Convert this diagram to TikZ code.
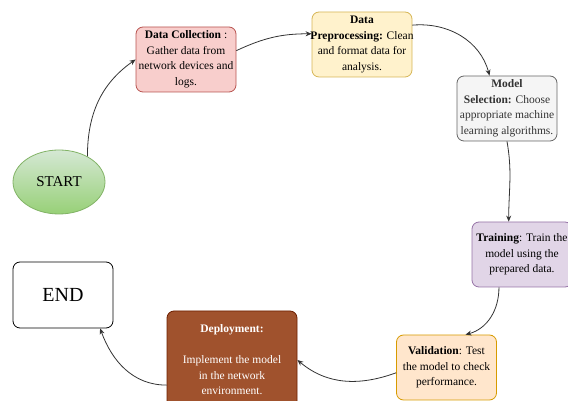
\documentclass[tikz,border=0pt]{standalone}
\usepackage{fontspec}
\setmainfont{Liberation Serif}
\usetikzlibrary{shapes.geometric,arrows.meta}
\definecolor{dcfill}{HTML}{F8CECC}\definecolor{dcdraw}{HTML}{B85450}
\definecolor{dpfill}{HTML}{FFF2CC}\definecolor{dpdraw}{HTML}{D6B656}
\definecolor{msfill}{HTML}{F5F5F5}\definecolor{msdraw}{HTML}{666666}
\definecolor{trfill}{HTML}{E1D5E7}\definecolor{trdraw}{HTML}{9673A6}
\definecolor{vafill}{HTML}{FFE6CC}\definecolor{vadraw}{HTML}{D79B00}
\definecolor{defill}{HTML}{A0522D}\definecolor{dedraw}{HTML}{6D1F00}
\definecolor{sttop}{HTML}{D5E8D4}\definecolor{stbot}{HTML}{97D077}\definecolor{stdraw}{HTML}{82B366}
\begin{document}
\begin{tikzpicture}[x=1pt,y=1pt,
  box/.style={draw, rounded corners=7pt, minimum width=100pt, minimum height=65pt, inner sep=0pt, line width=0.8pt},
  txt/.style={align=center, inner sep=0pt, font=\fontsize{11.5}{15.5}\selectfont},
  conn/.style={draw=black!80, line width=0.8pt, -{Stealth[length=6pt,width=5pt]}}]
\useasboundingbox (0,0) rectangle (568,401);
% START
\node[ellipse, draw=stdraw, top color=sttop, bottom color=stbot, minimum width=92pt, minimum height=64pt, inner sep=0pt, line width=0.8pt, font=\fontsize{15}{17}\selectfont] (start) at (59,219) {START};
% Boxes
\node[box, draw=dcdraw, fill=dcfill] (dc) at (186,341.5) {};
\node[txt] (dct) at (dc.center) {\textbf{Data Collection} :\\Gather data from\\network devices and\\logs.};
\node[box, draw=dpdraw, fill=dpfill] (dp) at (362,356.5) {};
\node[txt] (dpt) at (dp.center) {\textbf{Data}\\\textbf{Preprocessing:} Clean\\and format data for\\analysis.};
\node[box, draw=msdraw, fill=msfill] (ms) at (507,292.5) {};
\node[txt, text=black!80] (mst) at (ms.center) {\textbf{Model}\\\textbf{Selection:} Choose\\appropriate machine\\learning algorithms.};
\node[box, draw=trdraw, fill=trfill] (tr) at (522,146.5) {};
\node[txt] (trt) at (tr.center) {\textbf{Training}: Train the\\model using the\\prepared data.};
\node[box, draw=vadraw, fill=vafill] (va) at (446.5,33.5) {};
\node[txt] (vat) at (va.center) {\textbf{Validation}: Test\\the model to check\\performance.};
\node[box, draw=dedraw, fill=defill, minimum width=130pt, minimum height=98pt] (de) at (232,41) {};
\node[txt, text=white] (det) at (de.center) {\textbf{Deployment:}\\[15.5pt]Implement the model\\in the network\\environment.};
\node[box, draw=black, fill=white, minimum height=66pt, font=\fontsize{20}{22}\selectfont] (end) at (63,106) {END};
% Connectors
\draw[conn] (start.42) to[out=90,in=215] (dc.west);
\draw[conn] (dc.10) to[out=25,in=180] (dp.168);
\draw[conn] (dp.21) to[out=5,in=105] (ms.118);
\draw[conn] (ms.south) to[out=-80,in=90] (tr.112);
\draw[conn] (tr.235) to[out=-90,in=15] (va.60);
\draw[conn] (va.186) to[out=200,in=-40] (de.east);
\draw[conn] (de.201) to[out=180,in=-70] (end.318);
\end{tikzpicture}
\end{document}
